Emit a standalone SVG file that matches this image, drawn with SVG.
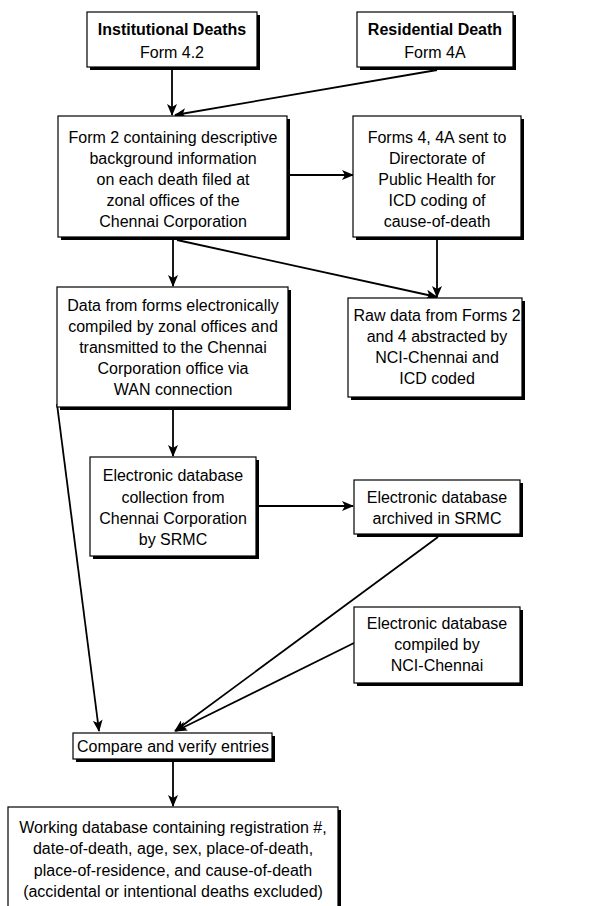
<svg xmlns="http://www.w3.org/2000/svg" width="608" height="906" viewBox="0 0 608 906">
<style>
.box{fill:#fff;stroke:#000;stroke-width:1.2}
.sh{fill:#000}
text{font-family:"Liberation Sans",Arial,sans-serif;font-size:16px;fill:#000;text-anchor:middle}
.b{font-weight:bold}
.c{fill:none;stroke:#000;stroke-width:1.8}
</style>
<defs>
<marker id="ah" viewBox="0 0 12 10" refX="11" refY="5" markerWidth="12" markerHeight="10" markerUnits="userSpaceOnUse" orient="auto">
<path d="M0,0 L12,5 L0,10 L3,5 z" fill="#000"/>
</marker>
</defs>
<rect width="608" height="906" fill="#fff"/>
<g id="connectors">
<line class="c" x1="172" y1="70" x2="172" y2="115" marker-end="url(#ah)"/>
<line class="c" x1="437" y1="70" x2="175" y2="115" marker-end="url(#ah)"/>
<line class="c" x1="290" y1="175" x2="353" y2="175" marker-end="url(#ah)"/>
<line class="c" x1="173" y1="240" x2="173" y2="286" marker-end="url(#ah)"/>
<line class="c" x1="177" y1="240" x2="437" y2="297" marker-end="url(#ah)"/>
<line class="c" x1="437" y1="240" x2="437" y2="297" marker-end="url(#ah)"/>
<line class="c" x1="57" y1="404" x2="99" y2="731" marker-end="url(#ah)"/>
<line class="c" x1="173" y1="410" x2="173" y2="456" marker-end="url(#ah)"/>
<line class="c" x1="259" y1="506" x2="353" y2="506" marker-end="url(#ah)"/>
<line class="c" x1="438" y1="537" x2="175" y2="731" marker-end="url(#ah)"/>
<line class="c" x1="354" y1="643" x2="176" y2="731" marker-end="url(#ah)"/>
<line class="c" x1="173" y1="762" x2="173" y2="806" marker-end="url(#ah)"/>
</g>
<g id="n1">
<rect class="sh" x="90" y="15" width="170" height="55"/>
<rect class="box" x="87" y="12" width="170" height="55"/>
<text class="b" x="172" y="35">Institutional Deaths</text>
<text x="172" y="58">Form 4.2</text>
</g>
<g id="n2">
<rect class="sh" x="360" y="15" width="156" height="55"/>
<rect class="box" x="357" y="12" width="156" height="55"/>
<text class="b" x="435" y="35">Residential Death</text>
<text x="435" y="58">Form 4A</text>
</g>
<g id="n3">
<rect class="sh" x="61" y="119" width="229" height="121"/>
<rect class="box" x="58" y="116" width="229" height="121"/>
<text x="173" y="143">Form 2 containing descriptive</text>
<text x="173" y="164">background information</text>
<text x="173" y="185">on each death filed at</text>
<text x="173" y="206">zonal offices of the</text>
<text x="173" y="227">Chennai Corporation</text>
</g>
<g id="n4">
<rect class="sh" x="356" y="119" width="168" height="121"/>
<rect class="box" x="353" y="116" width="168" height="121"/>
<text x="437" y="143">Forms 4, 4A sent to</text>
<text x="437" y="164">Directorate of</text>
<text x="437" y="185">Public Health for</text>
<text x="437" y="206">ICD coding of</text>
<text x="437" y="227">cause-of-death</text>
</g>
<g id="n5">
<rect class="sh" x="60" y="290" width="231" height="120"/>
<rect class="box" x="57" y="287" width="231" height="120"/>
<text x="173" y="311">Data from forms electronically</text>
<text x="173" y="332">compiled by zonal offices and</text>
<text x="173" y="353">transmitted to the Chennai</text>
<text x="173" y="374">Corporation office via</text>
<text x="173" y="395">WAN connection</text>
</g>
<g id="n6">
<rect class="sh" x="351" y="301" width="174" height="99"/>
<rect class="box" x="348" y="298" width="174" height="99"/>
<text x="437" y="321">Raw data from Forms 2</text>
<text x="437" y="342">and 4 abstracted by</text>
<text x="437" y="363">NCI-Chennai and</text>
<text x="437" y="384">ICD coded</text>
</g>
<g id="n7">
<rect class="sh" x="93" y="460" width="166" height="99"/>
<rect class="box" x="90" y="457" width="166" height="99"/>
<text x="173" y="481">Electronic database</text>
<text x="173" y="503">collection from</text>
<text x="173" y="524">Chennai Corporation</text>
<text x="173" y="545">by SRMC</text>
</g>
<g id="n8">
<rect class="sh" x="357" y="483" width="166" height="54"/>
<rect class="box" x="354" y="480" width="166" height="54"/>
<text x="437" y="503">Electronic database</text>
<text x="437" y="524">archived in SRMC</text>
</g>
<g id="n9">
<rect class="sh" x="357" y="610" width="166" height="76"/>
<rect class="box" x="354" y="607" width="166" height="76"/>
<text x="437" y="629">Electronic database</text>
<text x="437" y="650">compiled by</text>
<text x="437" y="671">NCI-Chennai</text>
</g>
<g id="n10">
<rect class="sh" x="76" y="736" width="199" height="26"/>
<rect class="box" x="73" y="733" width="199" height="26"/>
<text x="173" y="752">Compare and verify entries</text>
</g>
<g id="n11">
<rect class="sh" x="11" y="810" width="330" height="110"/>
<rect class="box" x="8" y="807" width="330" height="110"/>
<text x="173" y="833">Working database containing registration #,</text>
<text x="173" y="854">date-of-death, age, sex, place-of-death,</text>
<text x="173" y="876">place-of-residence, and cause-of-death</text>
<text x="173" y="897">(accidental or intentional deaths excluded)</text>
</g>
</svg>
